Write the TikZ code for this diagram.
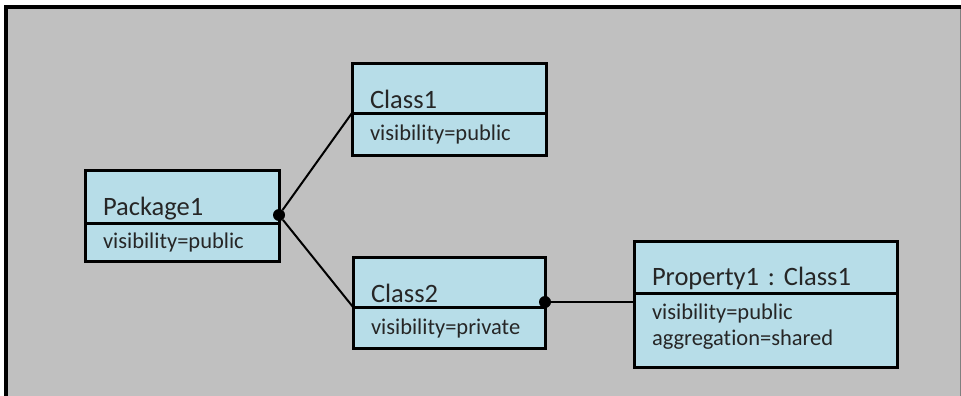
\documentclass[tikz,border=0pt]{standalone}
\usepackage{fontspec}
\setmainfont{Carlito}[Ligatures=NoCommon]
\usetikzlibrary{positioning}
\definecolor{umlblue}{HTML}{B7DDE8}
\definecolor{framegray}{HTML}{C0C0C0}
\frenchspacing
\begin{document}
\begin{tikzpicture}[x=1pt, y=-1pt,
    box/.style={draw=black, line width=3pt, fill=umlblue, inner xsep=18pt, inner ysep=0pt, outer sep=0pt, align=left, text=black!85},
    head/.style={box, font=\fontsize{26.5}{30}\selectfont},
    body/.style={box, font=\fontsize{22.5}{26}\selectfont},
    link/.style={line width=2pt},
    dot/.style={circle, fill=black, inner sep=0pt, minimum size=12pt}]
    \useasboundingbox (0,0) rectangle (961,396);

    % Frame
    \fill[white] (0,0) rectangle (961,396);
    \fill[framegray] (6,7) rectangle (961,396);
    \draw[black!50, line width=1pt] (960,7) -- (960,396);
    \draw[line width=4pt] (6,396) -- (6,7) -- (961,7);

    % Package
    \node[head, anchor=north west, text width=158pt, text height=45pt, text depth=8pt] (pkgT) at (85,170) {Package1};
    \node[body, below=0pt of pkgT, text width=158pt, text height=25pt, text depth=13pt] (pkgB) {visibility=public};

    % Classes
    \node[head, anchor=north west, text width=158pt, text height=44pt, text depth=5pt] (c1T) at (352,64) {Class1};
    \node[body, below=0pt of c1T, text width=158pt, text height=27pt, text depth=15pt] (c1B) {visibility=public};

    \node[head, anchor=north west, text width=156pt, text height=45pt, text depth=5pt] (c2T) at (353,257) {Class2};
    \node[body, below=0pt of c2T, text width=156pt, text height=27pt, text depth=14pt] (c2B) {visibility=private};

    % Property
    \node[head, anchor=north west, text width=227pt, text height=44pt, text depth=8pt] (propT) at (634,241) {Property1 : Class1};
    \node[body, below=0pt of propT, text width=227pt, text height=26pt, text depth=48pt] (propB) {visibility=public\\aggregation=shared};

    % Links
    \node[dot] (pkgdot) at (pkgT.base east) {};
    \node[dot] (c2dot) at (c2T.base east) {};
    \draw[link] (pkgdot) -- (c1T.south west);
    \draw[link] (pkgdot) -- (c2T.south west);
    \draw[link] (c2dot) -- (c2dot -| propB.west);
\end{tikzpicture}
\end{document}
